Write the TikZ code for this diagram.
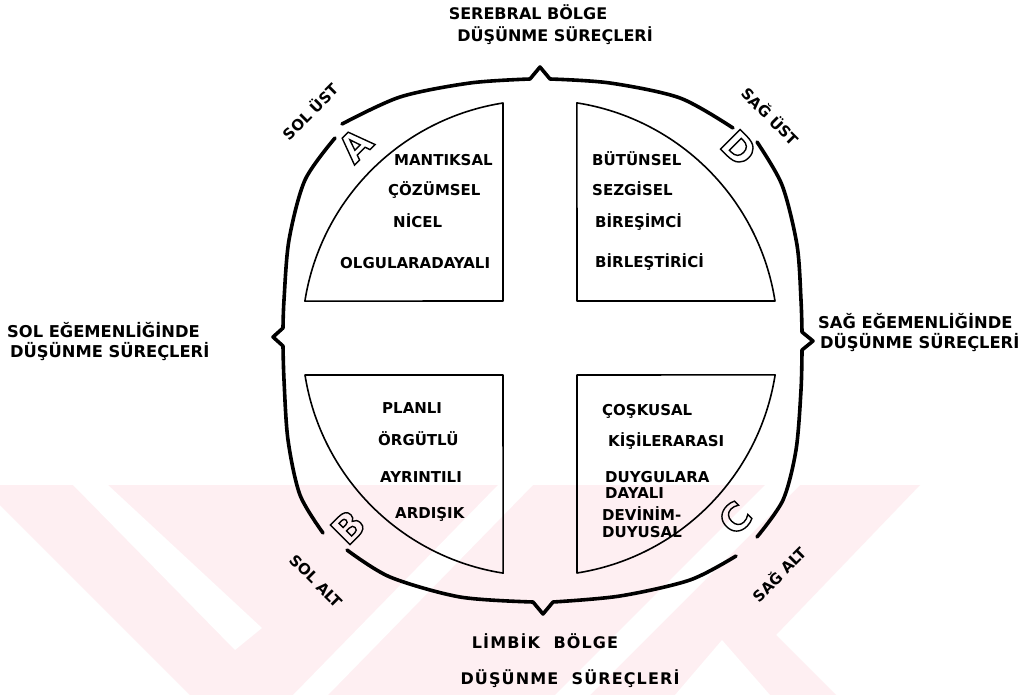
\documentclass[tikz,border=0pt]{standalone}
\usepackage{fontspec}
\setmainfont{DejaVu Sans}
\newfontfamily\widefont{DejaVu Sans}[LetterSpace=7]
\usetikzlibrary{calc}
\definecolor{wm}{RGB}{254,239,242}
\newcommand{\hollow}[1]{\special{pdf:literal direct 1 Tr 1.4 w}#1\special{pdf:literal direct 0 Tr}}
\begin{document}
\begin{tikzpicture}[x=1pt,y=-1pt,
  quad/.style={line width=1.6pt,line join=round},
  brace/.style={line width=3.6pt,line cap=round,line join=round},
  qtext/.style={font=\fontsize{15}{17}\selectfont\bfseries,inner sep=0pt,anchor=west,text height=10.9pt,text depth=0pt},
  stext/.style={font=\fontsize{16.3}{18}\selectfont\bfseries,inner sep=0pt,anchor=west,text height=11.9pt,text depth=0pt},
  ctext/.style={font=\fontsize{16}{18}\selectfont\bfseries,inner sep=0pt,text height=11.7pt,text depth=0pt},
  wtext/.style={font=\widefont\fontsize{16}{18}\selectfont\bfseries,inner sep=0pt,text height=11.7pt,text depth=0pt},
  rtext/.style={font=\fontsize{15}{17}\selectfont\bfseries,inner sep=0pt,text height=10.9pt,text depth=0pt},
  bigl/.style={font=\fontsize{38}{40}\selectfont\bfseries,inner sep=0pt}]
\useasboundingbox (0,0) rectangle (1036,695);
\fill[white] (0,0) rectangle (1036,695);
% watermark
\fill[wm] (-20,485) -- (920,485) -- (776,635) -- (836,695) -- (190,695) -- cycle;
\fill[white] (73,485) -- (108,485) -- (262,628) -- (235,650) -- cycle;
\fill[white] (498,485) -- (533,485) -- (328,695) -- (293,695) -- cycle;
\fill[white] (765,485) -- (800,485) -- (590,695) -- (555,695) -- cycle;
\fill[white] (675,695) -- (722,640) -- (770,695) -- cycle;
% quadrants
\draw[quad] (503,301) -- (503,103) arc[start angle=261.06,end angle=188.94,radius=238] -- cycle;
\draw[quad] (577,301) -- (775,301) arc[start angle=351.06,end angle=278.94,radius=238] -- cycle;
\draw[quad] (503,375) -- (305,375) arc[start angle=171.06,end angle=98.94,radius=238] -- cycle;
\draw[quad] (577,375) -- (577,573) arc[start angle=81.06,end angle=8.94,radius=238] -- cycle;
% braces
\draw[brace] plot[smooth] coordinates {(342,124) (400,97) (470,83) (530,79)} -- (540,67) -- plot[smooth] coordinates {(550,79) (610,83) (680,98) (733,128)};
\draw[brace] plot[smooth] coordinates {(335,138) (305,180) (289,240) (284,300) (283,328)} -- (273,337) -- plot[smooth] coordinates {(283,346) (284,380) (288,440) (300,495) (323,533)};
\draw[brace] plot[smooth] coordinates {(757,142) (782,185) (797,245) (801,300) (802,332)} -- (813,341) -- plot[smooth] coordinates {(802,350) (801,390) (796,450) (783,500) (757,537)};
\draw[brace] plot[smooth] coordinates {(347,550) (390,577) (460,597) (533,602)} -- (543,614) -- plot[smooth] coordinates {(553,602) (620,596) (690,580) (736,556)};
% letters
\node[bigl,rotate=45] (la) at (355,145) {\hollow{A}};
\node[bigl,rotate=-45] (ld) at (739,148) {\hollow{D}};
\node[bigl,rotate=45] (lb) at (348,527) {\hollow{B}};
\node[bigl,rotate=45] (lc) at (735,518) {\hollow{C}};
% quadrant texts
\node[qtext] (t1) at (394,160) {MANTIKSAL};
\node[qtext] (t2) at (388,190) {ÇÖZÜMSEL};
\node[qtext] (t3) at (393,222) {NİCEL};
\node[qtext] (t4) at (340,263) {OLGULARADAYALI};
\node[qtext] (r1) at (592,160) {BÜTÜNSEL};
\node[qtext] (r2) at (592,190) {SEZGİSEL};
\node[qtext] (r3) at (595,222) {BİREŞİMCİ};
\node[qtext] (r4) at (595,262) {BİRLEŞTİRİCİ};
\node[qtext] (b1) at (382,408) {PLANLI};
\node[qtext] (b2) at (378,440) {ÖRGÜTLÜ};
\node[qtext] (b3) at (380,477) {AYRINTILI};
\node[qtext] (b4) at (395,513) {ARDIŞIK};
\node[qtext] (c1) at (602,410) {ÇOŞKUSAL};
\node[qtext] (c2) at (608,441) {KİŞİLERARASI};
\node[qtext] (c3) at (605,477) {DUYGULARA};
\node[qtext] (c4) at (605,493) {DAYALI};
\node[qtext] (c5) at (602,515) {DEVİNİM-};
\node[qtext] (c6) at (602,532) {DUYUSAL};
% side labels
\node[stext] (sl1) at (7,332) {SOL EĞEMENLİĞİNDE};
\node[stext] (sl2) at (10,352) {DÜŞÜNME SÜREÇLERİ};
\node[stext] (sr1) at (818,323) {SAĞ EĞEMENLİĞİNDE};
\node[stext] (sr2) at (820,343) {DÜŞÜNME SÜREÇLERİ};
% top / bottom labels
\node[ctext] (tp1) at (528,14) {SEREBRAL BÖLGE};
\node[ctext] (tp2) at (555,36) {DÜŞÜNME SÜREÇLERİ};
\node[wtext] (bt1) at (545,643) {LİMBİK\ \ BÖLGE};
\node[wtext] (bt2) at (570,679) {DÜŞÜNME\ \ SÜREÇLERİ};
% corner labels
\node[rtext,rotate=45] (csu) at (311,112) {SOL ÜST};
\node[rtext,rotate=-45] (csa) at (770,117) {SAĞ ÜST};
\node[rtext,rotate=-45] (cla) at (316,581) {SOL ALT};
\node[rtext,rotate=45] (cra) at (780,575) {SAĞ ALT};
\end{tikzpicture}
\end{document}
